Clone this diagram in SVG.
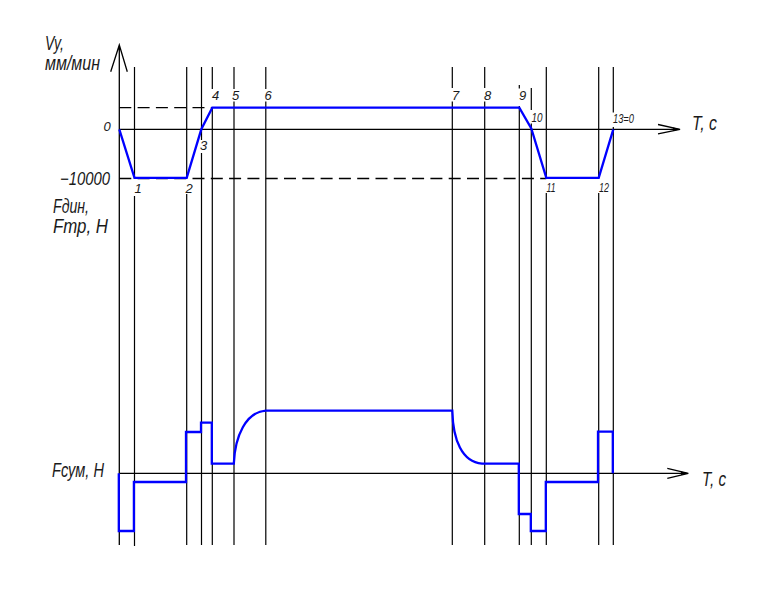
<svg xmlns="http://www.w3.org/2000/svg" width="768" height="598" viewBox="0 0 768 598">
<style>
.ax{stroke:#000;stroke-width:1.3;fill:none}
.gl{stroke:#000;stroke-width:1.2;fill:none}
.dash{stroke:#000;stroke-width:1.3;fill:none;stroke-dasharray:12 6.3}
.bl{stroke:#0000ff;stroke-width:2.3;fill:none;stroke-linejoin:miter}
.lab{font-family:"Liberation Sans",Arial,sans-serif;font-style:italic;font-size:20px;fill:#1a1a1a}
.num{font-family:"Liberation Sans",Arial,sans-serif;font-style:italic;font-size:13px;fill:#1a1a1a}
</style>
<rect width="768" height="598" fill="#fff"/>
<g id="grid">
<path class="ax" d="M119.3,45 V545 M110.7,71.7 L119.3,45 L127.3,71.7"/>
<path class="gl" d="M134.5,67 V179 M134.5,196 V546"/>
<path class="gl" d="M186.7,67 V178 M186.7,194 V545"/>
<path class="gl" d="M201.5,67 V140 M201.5,153 V545"/>
<path class="gl" d="M212.3,67 V89 M212.3,107 V545"/>
<path class="gl" d="M234,67 V89 M234,101.5 V545"/>
<path class="gl" d="M265.8,67 V89 M265.8,101.5 V545"/>
<path class="gl" d="M452.3,67 V88 M452.3,101.5 V545"/>
<path class="gl" d="M484.7,67 V88 M484.7,101.5 V545"/>
<path class="gl" d="M519.3,85 V88.5 M519.3,106 V545"/>
<path class="gl" d="M531.3,88 V110 M531.3,123.5 V545"/>
<path class="gl" d="M546.3,67 V178 M546.3,193 V545"/>
<path class="gl" d="M598.7,67 V178 M598.7,193 V545"/>
<path class="gl" d="M613.3,67 V112.5 M613.3,127 V545"/>
</g>
<g id="axes">
<path class="ax" d="M119.3,129.3 H680 M658,124.5 L680,129.3 L658,133.8"/>
<path d="M673,127.5 L680.5,129.3 L673,131.1 Z" fill="#000"/>
<path class="ax" d="M119.3,473.3 H688 M667.3,468.3 L688.3,473.3 L667.3,478.3"/>
<path d="M681,471.5 L688.5,473.3 L681,475.1 Z" fill="#000"/>
<path class="dash" d="M119.3,107.7 H212.3"/>
<path class="dash" d="M119.3,178.5 H546.3"/>
</g>
<g id="speed-curve">
<path class="bl" d="M119.3,129.3 L134.5,177.9 L186.7,177.9 L201.3,129.3 L212.3,107.7 L519.3,107.7 L531.3,128.5 L546.3,177.9 L598.7,177.9 L613.3,129.3"/>
</g>
<g id="force-curve">
<path class="bl" d="M118.8,473.3 V531 H133.9 V482 H186 V432 H201 V422.7 H211.8 V463.7 H233.8 C235,436 246,412 265.8,410.7 H452.3 C453,440 462,462 482,463.7 H518.8 V514 H530.8 V531 H545.8 V482 H598 V431.7 H612.8 V473.3"/>
</g>
<g id="labels">
<text class="lab" x="45" y="50" textLength="19" lengthAdjust="spacingAndGlyphs">Vy,</text>
<text class="lab" x="45" y="70" textLength="55" lengthAdjust="spacingAndGlyphs">мм/мин</text>
<text class="num" x="103.5" y="131">0</text>
<text class="lab" x="60" y="185" style="font-size:18px" textLength="50" lengthAdjust="spacingAndGlyphs">−10000</text>
<text class="lab" x="53" y="213" textLength="36" lengthAdjust="spacingAndGlyphs">Fдин,</text>
<text class="lab" x="53" y="233" textLength="55" lengthAdjust="spacingAndGlyphs">Fтр, Н</text>
<text class="lab" x="52" y="477" textLength="52" lengthAdjust="spacingAndGlyphs">Fсум, Н</text>
<text class="lab" x="692" y="130" textLength="25" lengthAdjust="spacingAndGlyphs">Т, с</text>
<text class="lab" x="702" y="486" textLength="24" lengthAdjust="spacingAndGlyphs">Т, с</text>
<text class="num" x="134.5" y="193">1</text>
<text class="num" x="185.5" y="193">2</text>
<text class="num" x="200" y="150">3</text>
<text class="num" x="212" y="99.5">4</text>
<text class="num" x="232" y="99.5">5</text>
<text class="num" x="264.5" y="99.5">6</text>
<text class="num" x="452" y="100">7</text>
<text class="num" x="484" y="100">8</text>
<text class="num" x="519" y="100">9</text>
<text class="num" x="531.5" y="122" textLength="11" lengthAdjust="spacingAndGlyphs">10</text>
<text class="num" x="546.5" y="192" textLength="9" lengthAdjust="spacingAndGlyphs">11</text>
<text class="num" x="599" y="192" textLength="10" lengthAdjust="spacingAndGlyphs">12</text>
<text class="num" x="613" y="123" textLength="21" lengthAdjust="spacingAndGlyphs">13=0</text>
</g>
</svg>
